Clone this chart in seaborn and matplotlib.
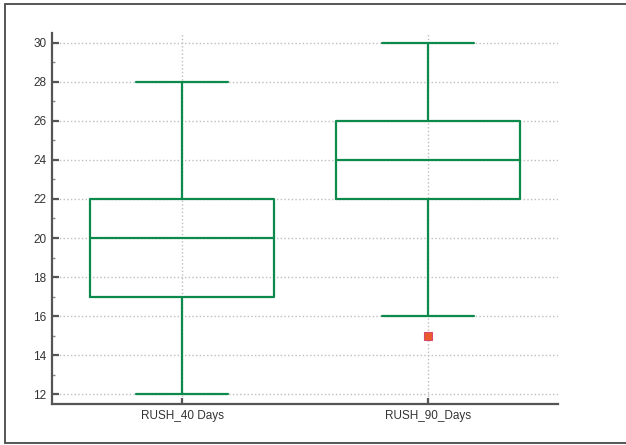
import numpy as np
import pandas as pd
import matplotlib
matplotlib.use("Agg")
import matplotlib.pyplot as plt
import seaborn as sns
from matplotlib.ticker import MultipleLocator
from matplotlib.lines import Line2D

groups = ["RUSH_40 Days", "RUSH_90_Days"]
rush_40 = [12, 15, 17, 18, 20, 21, 22, 25, 28]
rush_90 = [15, 16, 22, 23, 24, 25, 26, 28, 30]

df = pd.DataFrame({
    "group": [groups[0]] * len(rush_40) + [groups[1]] * len(rush_90),
    "value": rush_40 + rush_90,
})

sns.set_theme(style="white")
plt.rcParams["font.family"] = ["Liberation Sans", "DejaVu Sans"]

green = "#0b8a4c"
spine_col = "#555555"

fig = plt.figure(figsize=(6.26, 4.45), dpi=100)
ax = fig.add_axes([0.083, 0.092, 0.808, 0.834])

line_kw = dict(color=green, linewidth=1.6)
sns.boxplot(
    data=df, x="group", y="value", order=groups, ax=ax,
    width=0.75, fill=False, whis=1.5,
    boxprops=line_kw, medianprops=line_kw,
    whiskerprops=line_kw, capprops=line_kw,
    flierprops=dict(marker="s", markersize=6, markerfacecolor="#ec5b2c",
                    markeredgecolor="#d8486c", markeredgewidth=0.8),
)

ax.set_xlim(-0.53, 1.53)
ax.set_ylim(11.5, 30.5)
ax.yaxis.set_major_locator(MultipleLocator(2))
ax.yaxis.set_minor_locator(MultipleLocator(1))

ax.grid(True, which="major", linestyle=":", color="#bdbdbd", linewidth=1)
ax.set_axisbelow(True)

for side in ["top", "right"]:
    ax.spines[side].set_visible(False)
for side in ["left", "bottom"]:
    ax.spines[side].set_color(spine_col)
    ax.spines[side].set_linewidth(1.6)

ax.tick_params(axis="y", which="major", direction="in", length=5, width=1.6,
               color=spine_col, labelsize=8.5, labelcolor="#333333", pad=4,
               left=True)
ax.tick_params(axis="y", which="minor", direction="in", length=2.5, width=1,
               color="#888888", left=True)
ax.tick_params(axis="x", which="major", direction="in", length=4.5, width=1.6,
               color=spine_col, labelsize=8.5, labelcolor="#333333", pad=4,
               bottom=True)

ax.set_xlabel("")
ax.set_ylabel("")

# frame round the figure
for xs, ys in [([0.008, 0.008], [0.004, 0.991]),
               ([0.008, 1.0], [0.991, 0.991]),
               ([0.008, 1.0], [0.004, 0.004])]:
    fig.add_artist(Line2D(xs, ys, transform=fig.transFigure,
                          color="#555555", linewidth=1.4))

fig.savefig("out.png", dpi=100)
